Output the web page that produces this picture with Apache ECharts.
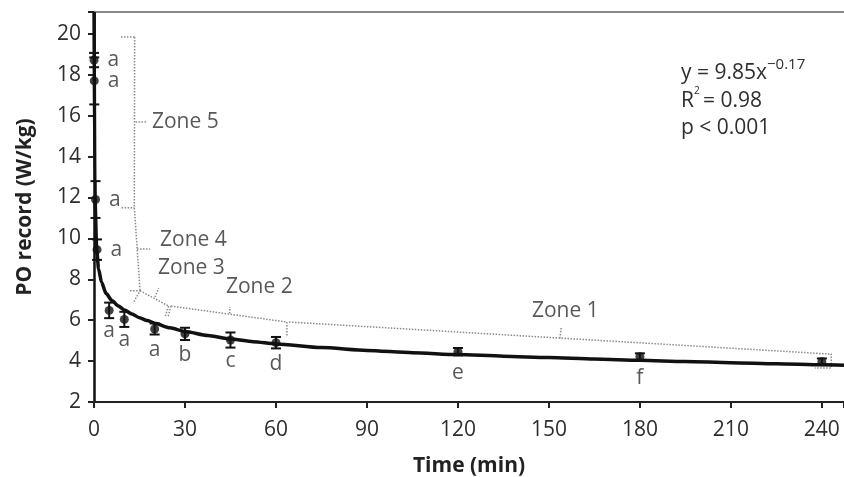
<!DOCTYPE html>
<html><head><meta charset="utf-8">
<script src="https://cdn.jsdelivr.net/npm/echarts@6/dist/echarts.min.js"></script>
<style>html,body{margin:0;padding:0;background:#fff}#c{width:844px;height:477px}</style>
</head><body><div id="c"></div>
<script>
// Measured record power points (time in minutes, PO in W/kg)
const times = [0.0167, 0.083, 0.5, 1, 5, 10, 20, 30, 45, 60, 120, 180, 240];
const poRecord = [18.72, 17.7, 11.9, 9.45, 6.48, 6.04, 5.57, 5.33, 5.03, 4.9, 4.46, 4.21, 3.97];
const poError = [0.35, 1.15, 0.9, 0.5, 0.38, 0.37, 0.27, 0.3, 0.37, 0.28, 0.18, 0.17, 0.16];
const letters = ['a', 'a', 'a', 'a', 'a', 'a', 'a', 'b', 'c', 'd', 'e', 'f', ''];
// Fitted curve
const fitT = [0.02, 0.3, 0.9, 1.5, 2.5, 4, 6, 8, 10, 12.5, 15, 17.5, 20, 25, 30, 37.5, 45, 52.5, 60,
  75, 90, 105, 120, 135, 150, 165, 180, 195, 210, 225, 240, 247.3];
const fitV = [21.07, 12.0, 9.45, 8.5, 7.85, 7.3, 6.95, 6.7, 6.5, 6.3, 6.12, 5.98, 5.85, 5.63, 5.45, 5.25, 5.08, 4.95, 4.84,
  4.66, 4.52, 4.41, 4.32, 4.24, 4.17, 4.1, 4.04, 3.98, 3.92, 3.87, 3.82, 3.8];
const xTickValues = [0, 30, 60, 90, 120, 150, 180, 210, 240];
const yTickValues = [2, 4, 6, 8, 10, 12, 14, 16, 18, 20];
// Zone bracket paths (data coordinates)
const zoneLines = [
  [[8.9, 19.85], [13.4, 19.85]],
  [[13.4, 19.85], [13.3, 11.5], [15.2, 7.44]],
  [[9.1, 11.5], [13.3, 11.5]],
  [[13.7, 15.69], [17.5, 15.69]],
  [[14.2, 9.48], [18.5, 9.48]],
  [[11.9, 7.44], [15.2, 7.44], [12.9, 6.84]],
  [[15.2, 7.44], [24.6, 6.69]],
  [[20.1, 7.13], [21.3, 7.57]],
  [[24.6, 6.69], [23.4, 6.16]],
  [[25.4, 6.69], [24.4, 6.16]],
  [[25.4, 6.69], [63.6, 5.91]],
  [[44.7, 6.33], [44.8, 6.65]],
  [[63.6, 5.91], [63.6, 5.18]],
  [[64.3, 5.91], [242.0, 4.35]],
  [[153.6, 5.11], [154.1, 5.67]],
  [[242.0, 4.35], [243.1, 4.35], [243.1, 3.66], [237.7, 3.66]]
];
const zoneNames = ['Zone 5', 'Zone 4', 'Zone 3', 'Zone 2', 'Zone 1'];
const zoneAnchors = [[19.1, 15.69], [21.76, 9.92], [21.1, 8.55], [43.5, 7.61], [144.4, 6.45]];

const FONT = '"Open Sans", "Noto Sans", sans-serif';
const TXT = '#2e2e2e';
const chart = echarts.init(document.getElementById('c'), null, {renderer: 'canvas'});

const series = [];
zoneLines.forEach(seg => {
  series.push({
    type: 'line', data: seg, showSymbol: false, silent: true, z: 1, clip: false,
    lineStyle: {color: '#8a8a8a', width: 1.5, type: [1.5, 1.5]}
  });
});
series.push({
  type: 'scatter', symbolSize: 0, silent: true, z: 3,
  data: zoneAnchors.map((p, i) => ({value: p, name: zoneNames[i]})),
  label: {show: true, position: 'right', distance: 0, formatter: p => p.name,
    fontFamily: FONT, fontSize: 21, color: TXT}
});
series.push({
  type: 'line', data: fitT.map((t, i) => [t, fitV[i]]), smooth: 0.25, smoothMonotone: 'x',
  showSymbol: false, z: 4, lineStyle: {color: '#111', width: 3.5}
});
series.push({
  type: 'custom', z: 5, clip: false,
  data: times.map((t, i) => [t, poRecord[i], poError[i]]),
  encode: {x: 0, y: 1},
  renderItem: (params, api) => {
    const x = api.value(0), y = api.value(1), e = api.value(2);
    const top = api.coord([x, y + e]), bot = api.coord([x, y - e]);
    const w = 5;
    const st = {stroke: '#111', lineWidth: 2};
    return {type: 'group', children: [
      {type: 'line', shape: {x1: top[0], y1: top[1], x2: bot[0], y2: bot[1]}, style: st},
      {type: 'line', shape: {x1: top[0] - w, y1: top[1], x2: top[0] + w, y2: top[1]}, style: st},
      {type: 'line', shape: {x1: bot[0] - w, y1: bot[1], x2: bot[0] + w, y2: bot[1]}, style: st}
    ]};
  }
});
series.push({
  type: 'scatter', symbol: 'circle', symbolSize: 9, z: 6,
  itemStyle: {color: '#111'},
  data: times.map((t, i) => ({
    value: [t, poRecord[i]],
    label: i < 4 ? {position: 'right', distance: 9} : {position: 'bottom', distance: 6}
  })),
  label: {show: true, formatter: p => letters[p.dataIndex], fontFamily: FONT, fontSize: 21, color: TXT}
});

chart.setOption({
  animation: false,
  grid: {left: 94, right: 0, top: 12, bottom: 75, outerBoundsMode: 'none', containLabel: false},
  xAxis: [{
    type: 'value', min: 0, max: 247.3, interval: 30,
    name: 'Time (min)', nameLocation: 'middle', nameGap: 54,
    nameTextStyle: {fontFamily: FONT, fontSize: 21, fontWeight: 'bold', color: '#222'},
    axisLine: {lineStyle: {color: '#222', width: 2}},
    axisTick: {length: 6, lineStyle: {color: '#222', width: 2}},
    axisLabel: {fontFamily: FONT, fontSize: 21, color: TXT, margin: 18,
      formatter: v => xTickValues.indexOf(v) >= 0 ? String(v) : ''},
    splitLine: {show: false}
  }, {
    type: 'value', position: 'top', min: 0, max: 247.3,
    axisLine: {show: true, lineStyle: {color: '#888', width: 2}},
    axisTick: {show: false}, axisLabel: {show: false}, splitLine: {show: false}
  }],
  yAxis: {
    type: 'value', min: 2, max: 21.07, interval: 2,
    name: 'PO record (W/kg)', nameLocation: 'middle', nameGap: 58,
    nameTextStyle: {fontFamily: FONT, fontSize: 21, fontWeight: 'bold', color: '#222'},
    axisLine: {show: true, lineStyle: {color: '#111', width: 2.5}},
    axisTick: {show: true, length: 6, lineStyle: {color: '#222', width: 2}},
    axisLabel: {fontFamily: FONT, fontSize: 21, color: TXT, margin: 13,
      formatter: v => yTickValues.indexOf(v) >= 0 ? String(v) : ''},
    splitLine: {show: false}
  },
  graphic: [
    {type: 'text', left: 681, top: 63, style: {text: 'y = 9.85x', font: '21px ' + FONT, fill: TXT}},
    {type: 'text', left: 767, top: 57, style: {text: '\u22120.17', font: '15px ' + FONT, fill: TXT}},
    {type: 'text', left: 681, top: 91, style: {text: 'R', font: '21px ' + FONT, fill: TXT}},
    {type: 'text', left: 694, top: 86, style: {text: '2', font: '10px ' + FONT, fill: TXT}},
    {type: 'text', left: 703, top: 91, style: {text: '= 0.98', font: '21px ' + FONT, fill: TXT}},
    {type: 'text', left: 681, top: 118, style: {text: 'p < 0.001', font: '21px ' + FONT, fill: TXT}}
  ],
  series: series
});
</script></body></html>
